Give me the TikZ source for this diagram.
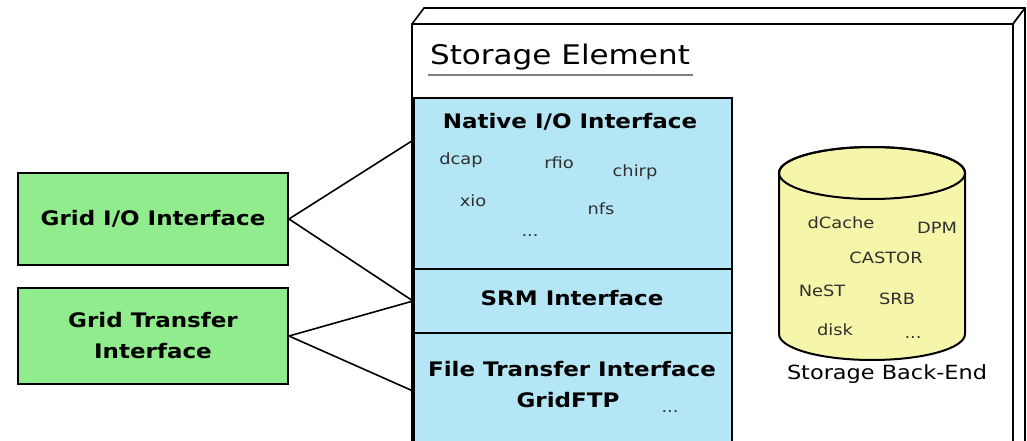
\documentclass[tikz,border=0pt]{standalone}
\usepackage{fontspec}
\setmainfont{DejaVu Sans}
\usetikzlibrary{calc}
\definecolor{cblue}{HTML}{B4E6F5}
\definecolor{cgreen}{HTML}{90EC8C}
\definecolor{cyellow}{HTML}{F6F6AA}
\definecolor{itemgray}{HTML}{303030}
\newcommand\wide[1]{\scalebox{1.15}[1]{#1}}
\tikzset{
  frame/.style={draw=black, line width=1.6pt, fill=white, line join=round},
  bluebox/.style={draw=black, line width=2pt, fill=cblue, rectangle, inner sep=0pt, minimum width=318pt},
  greenbox/.style={draw=black, line width=2pt, fill=cgreen, rectangle, inner sep=0pt, minimum width=270pt, align=center, font=\fontsize{20}{31}\selectfont\bfseries},
  title/.style={font=\fontsize{20}{24}\selectfont\bfseries, inner sep=0pt},
  item/.style={font=\fontsize{15.5}{18}\selectfont, inner sep=0pt, text=itemgray},
  conn/.style={draw=black, line width=1.6pt},
}
\begin{document}
\begin{tikzpicture}[x=1pt,y=-1pt]
\useasboundingbox (0,0) rectangle (1027,441);
% outer storage element box
\fill[white] (0,0) rectangle (1027,441);
\draw[frame] (412,24) -- (424,8) -- (1025,8) -- (1013,24) -- cycle;
\draw[frame] (1013,24) -- (1025,8) -- (1025,450) -- (1013,450) -- cycle;
\draw[frame] (412,450) -- (412,24) -- (1013,24) -- (1013,450);
\node[inner sep=0pt, font=\fontsize{27}{30}\selectfont] (setitle) at (560,57) {\wide{Storage Element}};
\draw[gray, line width=1.2pt] (428,75) -- (693,75);
% blue stack
\node[bluebox, minimum height=171pt, anchor=north west] (native) at (413,97) {};
\node[bluebox, minimum height=64pt, anchor=north west] (srm) at (413,268) {};
\node[bluebox, minimum height=116pt, anchor=north west] (ft) at (413,332) {};
\node[title] (nativet) at (570,122) {\wide{Native I/O Interface}};
\node[item] (dcap) at (461,160) {\wide{dcap}};
\node[item] (rfio) at (559,163) {\wide{rfio}};
\node[item] (chirp) at (635,172) {\wide{chirp}};
\node[item] (xio) at (473,201) {\wide{xio}};
\node[item] (nfs) at (601,209) {\wide{nfs}};
\node[item] (dots1) at (530,236) {\wide{...}};
\node[title] (srmt) at (572,298) {\wide{SRM Interface}};
\node[title] (ftt) at (572,369) {\wide{File Transfer Interface}};
\node[title] (gftp) at (568,400) {\wide{GridFTP}};
\node[item] (dots2) at (670,412) {\wide{...}};
% green boxes
\node[greenbox, minimum height=92pt] (gio) at (153,219) {\wide{Grid I/O Interface}};
\node[greenbox, minimum height=96pt] (gt) at (153,336) {\wide{Grid Transfer}\\\wide{Interface}};
% connectors
\coordinate (nin) at ($(native.north west)!0.25!(native.south west)$);
\draw[conn] (gio.east) -- (nin);
\draw[conn] (gio.east) -- (srm.west);
\draw[conn] (gt.east) -- (srm.west);
\draw[conn] (gt.east) -- (ft.west);
% cylinder back-end
\draw[fill=cyellow, line width=2pt] (779,173) -- (779,334) arc[start angle=180, end angle=0, x radius=93, y radius=26] -- (965,173) arc[start angle=0, end angle=-180, x radius=93, y radius=26] -- cycle;
\draw[line width=2pt] (872,173) ellipse[x radius=93, y radius=26];
\node[item] (dcache) at (841,223) {\wide{dCache}};
\node[item] (dpm) at (937,228) {\wide{DPM}};
\node[item] (castor) at (886,258) {\wide{CASTOR}};
\node[item] (nest) at (822,291) {\wide{NeST}};
\node[item] (srb) at (897,299) {\wide{SRB}};
\node[item] (disk) at (835,330) {\wide{disk}};
\node[item] (dots3) at (913,338) {\wide{...}};
\node[inner sep=0pt, font=\fontsize{19.5}{22}\selectfont] (belabel) at (887,374) {\wide{Storage Back-End}};
\end{tikzpicture}
\end{document}
